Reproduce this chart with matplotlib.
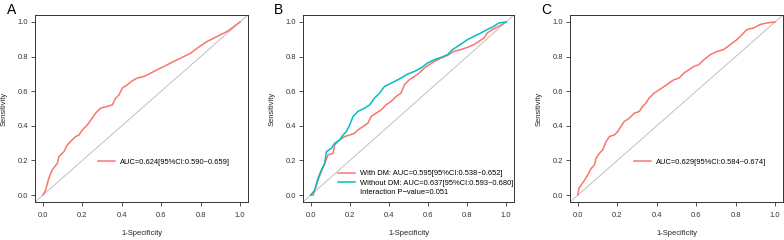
import matplotlib
matplotlib.use("Agg")
import matplotlib.pyplot as plt

plt.rcParams["font.family"] = ["Liberation Sans", "DejaVu Sans"]

RED = "#F8766D"
TEAL = "#00BFC4"

# panel A: ROC of whole cohort
a_fpr = [0, 0.014, 0.030, 0.047, 0.073, 0.081, 0.107, 0.124, 0.140, 0.166, 0.183,
         0.200, 0.225, 0.250, 0.267, 0.293, 0.327, 0.352, 0.369, 0.386, 0.403,
         0.428, 0.453, 0.479, 0.513, 0.547, 0.580, 0.614, 0.648, 0.682, 0.716,
         0.750, 0.783, 0.809, 0.834, 0.868, 0.902, 0.936, 0.970, 1.0]
a_tpr = [0, 0.029, 0.097, 0.145, 0.183, 0.222, 0.251, 0.290, 0.309, 0.338, 0.347,
         0.376, 0.405, 0.444, 0.473, 0.502, 0.512, 0.521, 0.560, 0.579, 0.618,
         0.637, 0.660, 0.676, 0.685, 0.705, 0.724, 0.743, 0.763, 0.782, 0.801,
         0.820, 0.849, 0.869, 0.888, 0.907, 0.927, 0.946, 0.975, 1.0]
a_label = "AUC=0.624[95%CI:0.590~0.659]"

# panel B: with / without DM
b_dm_fpr = [0, 0.012, 0.020, 0.037, 0.054, 0.071, 0.088, 0.114, 0.122, 0.148, 0.173,
            0.199, 0.224, 0.241, 0.267, 0.292, 0.309, 0.334, 0.360, 0.385, 0.411,
            0.436, 0.462, 0.479, 0.504, 0.530, 0.555, 0.581, 0.606, 0.632, 0.666,
            0.700, 0.733, 0.767, 0.801, 0.835, 0.861, 0.886, 0.903, 0.929, 0.963, 1.0]
b_dm_tpr = [0, 0, 0.029, 0.087, 0.135, 0.183, 0.232, 0.241, 0.290, 0.319, 0.338,
            0.347, 0.357, 0.376, 0.396, 0.415, 0.454, 0.473, 0.492, 0.521, 0.541,
            0.569, 0.589, 0.637, 0.666, 0.685, 0.705, 0.734, 0.753, 0.772, 0.791,
            0.807, 0.830, 0.840, 0.853, 0.869, 0.888, 0.907, 0.936, 0.956, 0.975, 1.0]
b_nodm_fpr = [0, 0.020, 0.037, 0.054, 0.071, 0.080, 0.105, 0.122, 0.148, 0.165, 0.182,
              0.199, 0.216, 0.241, 0.275, 0.301, 0.326, 0.352, 0.377, 0.402, 0.428,
              0.462, 0.496, 0.530, 0.564, 0.598, 0.632, 0.666, 0.700, 0.725, 0.751,
              0.776, 0.802, 0.836, 0.870, 0.903, 0.937, 0.963, 1.0]
b_nodm_tpr = [0, 0.029, 0.097, 0.145, 0.183, 0.251, 0.270, 0.299, 0.319, 0.347, 0.367,
              0.405, 0.454, 0.483, 0.502, 0.521, 0.560, 0.589, 0.627, 0.641, 0.656,
              0.676, 0.699, 0.714, 0.734, 0.763, 0.782, 0.795, 0.811, 0.840, 0.859,
              0.878, 0.898, 0.917, 0.936, 0.956, 0.975, 0.994, 1.0]
b_labels = ["With DM: AUC=0.595[95%CI:0.538~0.652]",
            "Without DM: AUC=0.637[95%CI:0.593~0.680]",
            "Interaction P\u2212value=0.051"]

# panel C
c_fpr = [0, 0.005, 0.017, 0.034, 0.050, 0.067, 0.084, 0.092, 0.109, 0.126, 0.143,
         0.160, 0.185, 0.202, 0.218, 0.235, 0.261, 0.286, 0.311, 0.328, 0.345,
         0.361, 0.387, 0.412, 0.437, 0.462, 0.487, 0.513, 0.538, 0.563, 0.588,
         0.613, 0.639, 0.672, 0.706, 0.739, 0.773, 0.807, 0.832, 0.857, 0.891,
         0.924, 0.958, 1.0]
c_tpr = [0, 0.039, 0.058, 0.087, 0.116, 0.154, 0.174, 0.212, 0.241, 0.261, 0.309,
         0.338, 0.347, 0.367, 0.396, 0.425, 0.444, 0.473, 0.483, 0.512, 0.531,
         0.560, 0.589, 0.608, 0.627, 0.647, 0.666, 0.676, 0.705, 0.724, 0.743,
         0.753, 0.782, 0.811, 0.830, 0.840, 0.869, 0.898, 0.927, 0.956, 0.965,
         0.985, 0.994, 1.0]
c_label = "AUC=0.629[95%CI:0.584~0.674]"

ticks = [0.0, 0.2, 0.4, 0.6, 0.8, 1.0]
FS = 5.4


def setup_axes(fig, left_px, width_px, letter, letter_px):
    W, H = 784, 240
    ax = fig.add_axes([left_px / W, (240 - 202) / H, width_px / W, 187 / H])
    ax.plot([-0.04, 1.04], [-0.04, 1.04], color="#c0c0c0", lw=0.7, zorder=1)
    ax.set_xlim(-0.04, 1.04)
    ax.set_ylim(-0.04, 1.04)
    ax.set_xticks(ticks)
    ax.set_yticks(ticks)
    ax.set_xticklabels([f"{t:.1f}" for t in ticks])
    ax.set_yticklabels([f"{t:.1f}" for t in ticks])
    ax.tick_params(labelsize=FS, length=3, width=0.6, pad=2, colors="#333333")
    ax.tick_params(axis="x", pad=4)
    for s in ax.spines.values():
        s.set_linewidth(0.7)
        s.set_color("#333333")
    ax.set_xlabel("1-Specificity", fontsize=FS, labelpad=8, color="#222222")
    ax.set_ylabel("Sensitivity", fontsize=FS, labelpad=7, color="#222222")
    fig.text(letter_px / W, 1 - 10 / H, letter, fontsize=10, va="center", ha="left")
    return ax


fig = plt.figure(figsize=(7.84, 2.4), dpi=100)

ax = setup_axes(fig, 35, 213, "A", 7)
ax.plot(a_fpr, a_tpr, color=RED, lw=1.1, label=a_label)
ax.legend(loc="center left", bbox_to_anchor=(0.296, 0.214), frameon=False,
          fontsize=FS, borderpad=0, borderaxespad=0, handlelength=2.2,
          handletextpad=0.7)

ax = setup_axes(fig, 303, 211, "B", 274)
ax.plot(b_dm_fpr, b_dm_tpr, color=RED, lw=1.1, label=b_labels[0])
ax.plot(b_nodm_fpr, b_nodm_tpr, color=TEAL, lw=1.1, label=b_labels[1])
ax.plot([], [], color="none", label=b_labels[2])
ax.legend(loc="center left", bbox_to_anchor=(0.167, 0.102), frameon=False,
          fontsize=FS, borderpad=0, borderaxespad=0, handlelength=2.2,
          handletextpad=0.7, labelspacing=0.25)

ax = setup_axes(fig, 570, 213, "C", 541)
ax.plot(c_fpr, c_tpr, color=RED, lw=1.1, label=c_label)
ax.legend(loc="center left", bbox_to_anchor=(0.302, 0.214), frameon=False,
          fontsize=FS, borderpad=0, borderaxespad=0, handlelength=2.2,
          handletextpad=0.7)

fig.savefig("out.png", dpi=100)
